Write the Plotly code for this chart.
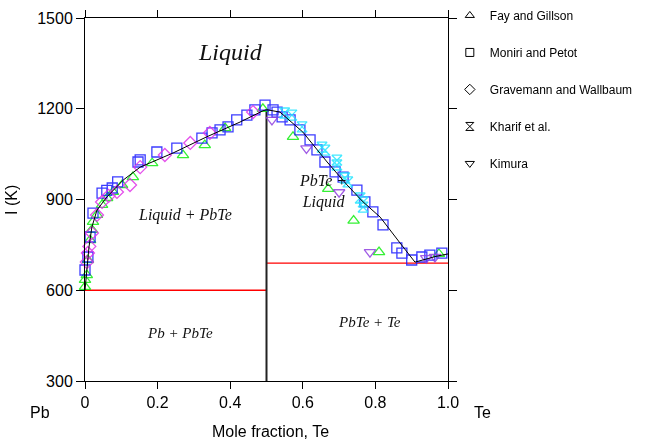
import plotly.graph_objects as go

# ---- data ----
fay_x = [0.0, 0.0, 0.005, 0.008, 0.014, 0.019, 0.022, 0.033, 0.047, 0.061, 0.077, 0.102, 0.132,
         0.185, 0.27, 0.33, 0.386, 0.49, 0.573, 0.67, 0.74, 0.81, 0.975]
fay_t = [611, 634, 650, 700, 766, 800, 826, 849, 882, 905, 925, 948, 974,
         1020, 1047, 1080, 1136, 1200, 1107, 935, 830, 726, 720]

mon_x = [0.0, 0.008, 0.014, 0.022, 0.047, 0.06, 0.075, 0.09, 0.146, 0.152, 0.198, 0.253, 0.322,
         0.35, 0.372, 0.394, 0.418, 0.446, 0.468, 0.496, 0.518, 0.529, 0.543, 0.565, 0.592,
         0.62, 0.639, 0.661, 0.689, 0.711, 0.749, 0.771, 0.793, 0.821, 0.859, 0.873, 0.9,
         0.928, 0.95, 0.983]
mon_t = [667, 710, 776, 855, 921, 930, 938, 958, 1024, 1031, 1057, 1070, 1103,
         1120, 1130, 1140, 1163, 1179, 1196, 1212, 1196, 1189, 1173, 1163, 1130,
         1097, 1064, 1024, 991, 974, 931, 892, 859, 816, 740, 723, 700,
         710, 716, 723]

gra_x = [0.005, 0.008, 0.012, 0.019, 0.033, 0.047, 0.065, 0.088, 0.124, 0.152, 0.22, 0.29, 0.344, 0.463]
gra_t = [693, 723, 745, 789, 849, 892, 912, 925, 948, 1007, 1047, 1087, 1120, 1189]

kha_x = [0.55, 0.57, 0.598, 0.653, 0.661, 0.694, 0.694, 0.716, 0.724, 0.758, 0.766, 0.766]
kha_t = [1186, 1179, 1140, 1073, 1063, 1030, 1014, 971, 958, 905, 892, 875]

kim_x = [0.515, 0.61, 0.70, 0.785, 0.94, 0.964]
kim_t = [1163, 1069, 924, 726, 706, 710]

liq_x = [0, 0.005, 0.011, 0.019, 0.033, 0.06, 0.105, 0.152, 0.243, 0.335, 0.427, 0.49, 0.5,
         0.537, 0.60, 0.667, 0.722, 0.766, 0.813, 0.868, 0.909, 0.97, 1.0]
liq_t = [600, 667, 743, 809, 865, 908, 964, 1007, 1054, 1107, 1156, 1193, 1197,
         1189, 1123, 1024, 948, 892, 842, 756, 693, 713, 720]

pb_eut_x = [0.0, 0.5]
pb_eut_t = [600, 600]
te_eut_x = [0.5, 1.0]
te_eut_t = [690, 690]
pbte_x = [0.5, 0.5]
pbte_t = [300, 1197]

x_ticks = [0, 0.2, 0.4, 0.6, 0.8, 1.0]
x_labels = ["0", "0.2", "0.4", "0.6", "0.8", "1.0"]
y_ticks = [300, 600, 900, 1200, 1500]

series = [
    ("Fay and Gillson", fay_x, fay_t, "triangle-up-open", "#11ee11"),
    ("Moniri and Petot", mon_x, mon_t, "square-open", "#1a1aff"),
    ("Gravemann and Wallbaum", gra_x, gra_t, "diamond-open", "#e033e8"),
    ("Kharif et al.", kha_x, kha_t, "hourglass-open", "#22e5ff"),
    ("Kimura", kim_x, kim_t, "triangle-down-open", "#9040e0"),
]

fig = go.Figure()

# phase boundary lines
fig.add_trace(go.Scatter(x=pb_eut_x, y=pb_eut_t, mode="lines",
                         line=dict(color="#ff0000", width=1.5), showlegend=False))
fig.add_trace(go.Scatter(x=te_eut_x, y=te_eut_t, mode="lines",
                         line=dict(color="#ff0000", width=1.2), showlegend=False))
fig.add_trace(go.Scatter(x=pbte_x, y=pbte_t, mode="lines",
                         line=dict(color="#222222", width=2), showlegend=False))

# data points
for name, xs, ts, sym, col in series:
    fig.add_trace(go.Scatter(x=xs, y=ts, mode="markers", name=name, showlegend=False,
                             cliponaxis=False, opacity=0.85,
                             marker=dict(symbol=sym, size=10, color=col,
                                         line=dict(color=col, width=1.3))))

fig.add_trace(go.Scatter(x=liq_x, y=liq_t, mode="lines",
                         line=dict(color="black", width=1), showlegend=False))

# legend entries (black symbols)
for i, (name, xs, ts, sym, col) in enumerate(series):
    fig.add_trace(go.Scatter(x=[None], y=[None], mode="markers", name=name,
                             legendgroup=f"g{i}",
                             marker=dict(symbol=sym, size=8, color="black",
                                         line=dict(color="black", width=1))))

serif = "Liberation Serif, Times New Roman, serif"
ann = []
def lab(text, x, y, size):
    ann.append(dict(text=text, x=x, y=y, xref="x", yref="y", showarrow=False,
                    xanchor="center", yanchor="middle",
                    font=dict(family=serif, size=size, color="#111111")))

lab("<i>Liquid</i>", 0.40, 1388, 24)
lab("<i>Liquid + PbTe</i>", 0.275, 849, 16)
lab("<i>PbTe +<br>Liquid</i>", 0.655, 925, 16)
lab("<i>Pb + PbTe</i>", 0.262, 459, 15)
lab("<i>PbTe + Te</i>", 0.785, 495, 15)

sans = "Arial, Liberation Sans, sans-serif"
for text, x, y, ang in [("Pb", -0.124, -0.088, 0), ("Te", 1.096, -0.088, 0),
                        ("Mole fraction, Te", 0.51, -0.14, 0), ("I (K)", -0.201, 0.499, -90)]:
    ann.append(dict(text=text, x=x, y=y, xref="paper", yref="paper", showarrow=False,
                    xanchor="center", yanchor="middle",
                    textangle=ang, font=dict(family=sans, size=16, color="black")))

fig.update_layout(
    width=646, height=441,
    margin=dict(l=85, r=198, t=18, b=60, autoexpand=False),
    plot_bgcolor="white", paper_bgcolor="white",
    font=dict(family=sans, size=16, color="black"),
    annotations=ann,
    legend=dict(x=1.005, y=1.047, xanchor="left", yanchor="top",
                font=dict(family=sans, size=12, color="black"),
                tracegroupgap=18, itemwidth=30, bgcolor="rgba(0,0,0,0)"),
    xaxis=dict(range=[0, 1], tickvals=x_ticks, ticktext=x_labels, ticks="outside",
               ticklen=7, tickcolor="black", showline=True, linecolor="black", linewidth=1,
               mirror="ticks", showgrid=False, zeroline=False,
               tickfont=dict(family=sans, size=16)),
    yaxis=dict(range=[300, 1500], tickvals=y_ticks, ticks="outside", ticklen=8,
               tickcolor="black", showline=True, linecolor="black", linewidth=1,
               mirror="ticks", showgrid=False, zeroline=False,
               tickfont=dict(family=sans, size=16)),
)

fig.write_html("out.html", config={"displayModeBar": False},
               post_script="document.body.style.margin='0';")
